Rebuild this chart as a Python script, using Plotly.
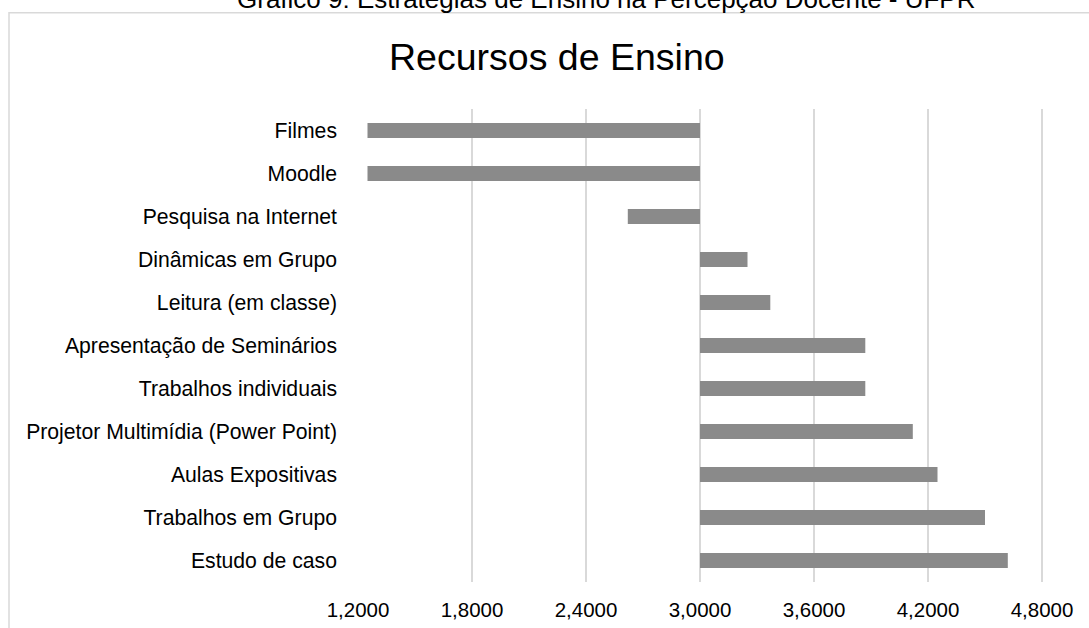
import plotly.graph_objects as go

# Teaching resources and their mean scores (scale centred on 3.0)
categorias = [
    "Filmes",
    "Moodle",
    "Pesquisa na Internet",
    "Dinâmicas em Grupo",
    "Leitura (em classe)",
    "Apresentação de Seminários",
    "Trabalhos individuais",
    "Projetor Multimídia (Power Point)",
    "Aulas Expositivas",
    "Trabalhos em Grupo",
    "Estudo de caso",
]
medias = [1.25, 1.25, 2.62, 3.25, 3.37, 3.87, 3.87, 4.12, 4.25, 4.50, 4.62]
linha_base = 3.0

tick_vals = [1.2, 1.8, 2.4, 3.0, 3.6, 4.2, 4.8]
tick_text = ["1,2000", "1,8000", "2,4000", "3,0000", "3,6000", "4,2000", "4,8000"]

W, H = 1089, 628
ML, MR, MT, MB = 358, 0, 108.5, 45.5
plot_w = W - ML - MR
plot_h = H - MT - MB


def px_x(px):
    return (px - ML) / plot_w


def px_y(py):
    return (H - MB - py) / plot_h


fig = go.Figure()
fig.add_trace(go.Bar(
    y=categorias,
    x=[v - linha_base for v in medias],
    base=[linha_base] * len(medias),
    orientation="h",
    width=0.35,
    marker=dict(color="#8a8a8a", line=dict(width=0)),
    hoverinfo="skip",
))

font = "Liberation Sans, Arial, sans-serif"

fig.update_layout(
    width=W,
    height=H,
    margin=dict(l=ML, r=MR, t=MT, b=MB, pad=0),
    paper_bgcolor="white",
    plot_bgcolor="white",
    showlegend=False,
    font=dict(family=font, size=20, color="#000000"),
    xaxis=dict(
        range=[1.2, 1.2 + plot_w / 190.0],
        tickvals=tick_vals,
        ticktext=tick_text,
        showgrid=True,
        gridcolor="#d9d9d9",
        gridwidth=1.5,
        zeroline=False,
        showline=False,
        ticks="",
        ticklabelstandoff=13,
        tickfont=dict(family=font, size=20.5, color="#000000"),
        fixedrange=True,
    ),
    yaxis=dict(
        categoryorder="array",
        categoryarray=categorias[::-1],
        showgrid=False,
        zeroline=False,
        showline=False,
        ticks="",
        ticklabelstandoff=20,
        tickfont=dict(family=font, size=21.2, color="#000000"),
        fixedrange=True,
    ),
    shapes=[
        dict(
            type="rect", xref="paper", yref="paper",
            x0=px_x(9), x1=px_x(1200), y0=px_y(700), y1=px_y(12),
            line=dict(color="#d9d9d9", width=1.5),
            fillcolor="rgba(0,0,0,0)", layer="below",
        )
    ],
    annotations=[
        dict(
            text="Recursos de Ensino",
            xref="paper", yref="paper",
            x=px_x(556.5), y=px_y(56),
            xanchor="center", yanchor="middle",
            showarrow=False,
            font=dict(family=font, size=37.5, color="#000000"),
        ),
        dict(
            text="Gráfico 9: Estratégias de Ensino na Percepção Docente - UFPR",
            xref="paper", yref="paper",
            x=px_x(606), y=px_y(-2),
            xanchor="center", yanchor="middle",
            showarrow=False,
            font=dict(family=font, size=26, color="#000000"),
        ),
    ],
)

fig.write_html("out.html")
